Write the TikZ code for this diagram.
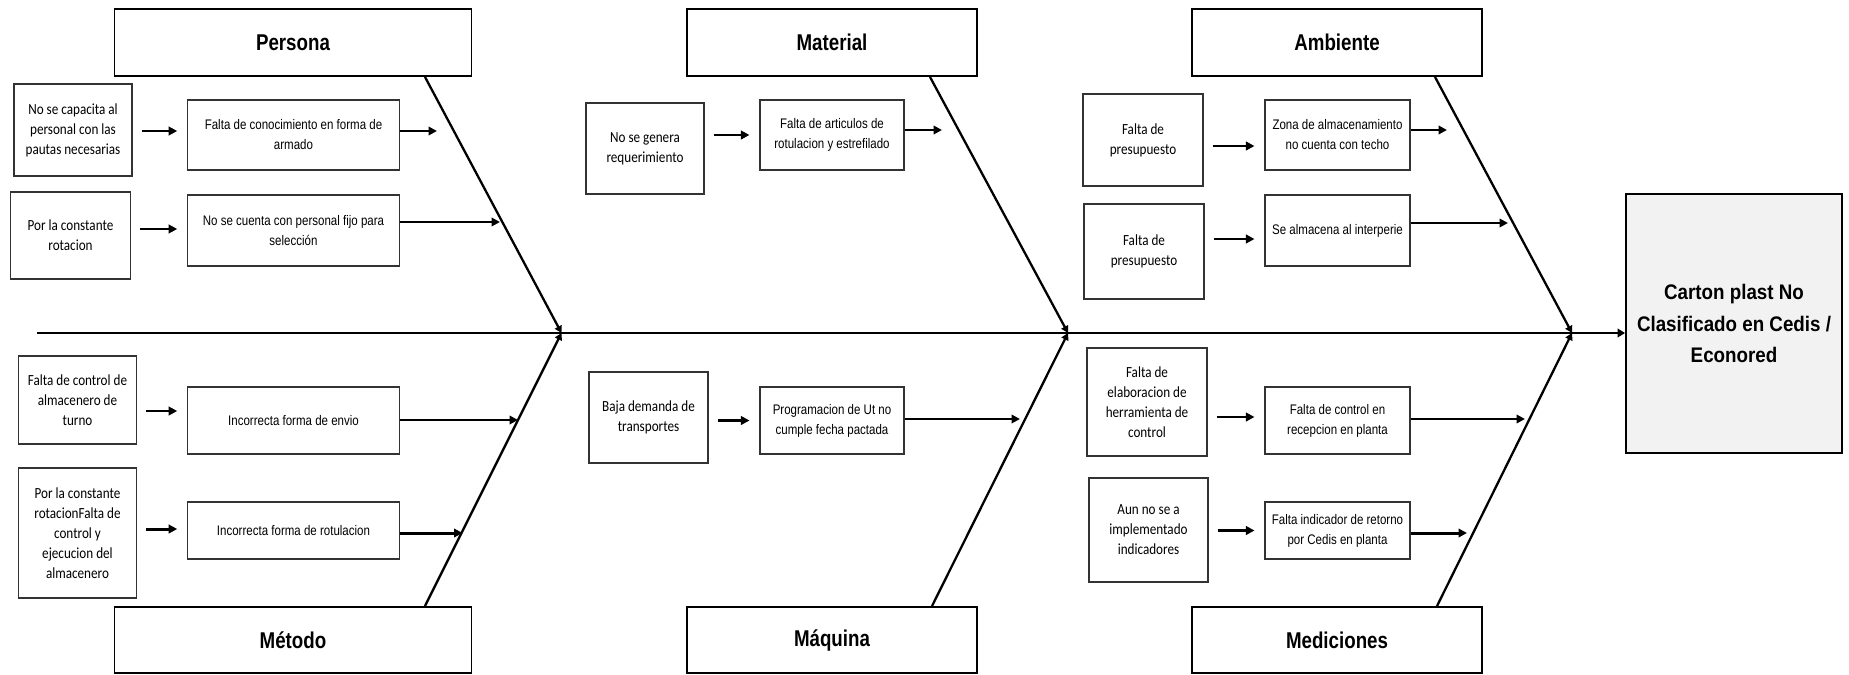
\documentclass[tikz,border=0pt]{standalone}
\usepackage{fontspec}
\setmainfont{Liberation Sans}
\newfontfamily\causefont[FakeStretch=0.85]{Carlito}
\newfontfamily\subfont[FakeStretch=0.83]{Liberation Sans}
\newfontfamily\headfont[FakeStretch=0.82]{Liberation Sans}
\newfontfamily\effectfont[FakeStretch=0.89]{Liberation Sans}
\usetikzlibrary{arrows.meta, calc}

\tikzset{
    header/.style={draw, line width=1.1pt, minimum height=1.34cm,
        font=\headfont\bfseries\fontsize{13}{15}\selectfont},
    cause/.style={draw=black!80, line width=0.6pt, align=center, inner sep=1pt,
        font=\causefont\fontsize{8.8}{11.4}\selectfont},
    subcause/.style={draw=black!80, line width=0.6pt, align=center, inner sep=1pt,
        minimum height=1.34cm, font=\subfont\fontsize{7.9}{11.4}\selectfont},
    feed/.style={line width=1.7pt, -{Triangle[length=1.7mm, width=1.7mm]}},
    bone/.style={line width=1.3pt, -{Triangle[length=1.4mm, width=1.5mm]}},
    spine/.style={line width=1.7pt, -{Triangle[length=1.5mm, width=1.7mm]}}
}

\begin{document}
\begin{tikzpicture}
            \useasboundingbox (0, 0) rectangle (36.98, -13.48);

            % category heads
            \node[header, minimum width=7.14cm] (persona) at (5.86, -0.85) {Persona};
            \node[header, minimum width=5.8cm] (material) at (16.64, -0.85) {Material};
            \node[header, minimum width=5.8cm] (ambiente) at (26.74, -0.85) {Ambiente};
            \node[header, minimum width=7.14cm, minimum height=1.32cm] (metodo) at (5.86, -12.8) {Método};
            \node[header, minimum width=5.8cm, minimum height=1.32cm] (maquina) at (16.64, -12.8) {Máquina};
            \node[header, minimum width=5.8cm, minimum height=1.32cm] (mediciones) at (26.74, -12.8) {Mediciones};

            \node[draw, line width=1pt, fill=black!5, minimum width=4.32cm, minimum height=5.18cm,
                align=center, font=\effectfont\bfseries\fontsize{12}{18}\selectfont]
                (effect) at (34.68, -6.47) {Carton plast No\\Clasificado en Cedis /\\Econored};

            % root causes
            \node[cause, minimum width=2.36cm, minimum height=1.84cm] (c1) at (1.46, -2.6) {No se capacita al\\personal con las\\pautas necesarias};
            \node[cause, minimum width=2.4cm, minimum height=1.74cm] (c2) at (1.41, -4.71) {Por la constante\\rotacion};
            \node[cause, minimum width=2.36cm, minimum height=1.76cm] (c3) at (1.55, -8.0) {Falta de control de\\almacenero de\\turno};
            \node[cause, minimum width=2.36cm, minimum height=2.6cm] (c4) at (1.55, -10.66) {Por la constante\\rotacionFalta de\\control y\\ejecucion del\\almacenero};
            \node[cause, minimum width=2.36cm, minimum height=1.82cm] (c5) at (12.9, -2.97) {No se genera\\requerimiento};
            \node[cause, minimum width=2.38cm, minimum height=1.82cm] (c6) at (12.97, -8.35) {Baja demanda de\\transportes};
            \node[cause, minimum width=2.4cm, minimum height=1.84cm] (c7) at (22.86, -2.8) {Falta de\\presupuesto};
            \node[cause, minimum width=2.4cm, minimum height=1.9cm] (c8) at (22.88, -5.03) {Falta de\\presupuesto};
            \node[cause, minimum width=2.4cm, minimum height=2.16cm] (c9) at (22.94, -8.04) {Falta de\\elaboracion de\\herramienta de\\control};
            \node[cause, minimum width=2.38cm, minimum height=2.08cm] (c10) at (22.97, -10.6) {Aun no se a\\implementado\\indicadores};

            % what they lead to
            \node[subcause, minimum width=4.23cm, minimum height=1.4cm] (e1) at (5.87, -2.7) {Falta de conocimiento en forma de\\armado};
            \node[subcause, minimum width=4.23cm, minimum height=1.42cm] (e2) at (5.87, -4.61) {No se cuenta con personal fijo para\\selección};
            \node[subcause, minimum width=4.23cm] (e3) at (5.87, -8.41) {Incorrecta forma de envio};
            \node[subcause, minimum width=4.23cm, minimum height=1.14cm] (e4) at (5.87, -10.61) {Incorrecta forma de rotulacion};
            \node[subcause, minimum width=2.88cm, minimum height=1.4cm] (e5) at (16.64, -2.7) {Falta de articulos de\\rotulacion y estrefilado};
            \node[subcause, minimum width=2.88cm] (e6) at (16.64, -8.41) {Programacion de Ut no\\cumple fecha pactada};
            \node[subcause, minimum width=2.9cm, minimum height=1.4cm] (e7) at (26.75, -2.7) {Zona de almacenamiento\\no cuenta con techo};
            \node[subcause, minimum width=2.9cm, minimum height=1.42cm] (e8) at (26.75, -4.61) {Se almacena al interperie};
            \node[subcause, minimum width=2.9cm] (e9) at (26.75, -8.41) {Falta de control en\\recepcion en planta};
            \node[subcause, minimum width=2.9cm, minimum height=1.14cm] (e10) at (26.75, -10.61) {Falta indicador de retorno\\por Cedis en planta};

            % spine and bones
            \coordinate (tail) at (0.74, -6.66);
            \coordinate (j1) at (11.23, -6.66);
            \coordinate (j2) at (21.36, -6.66);
            \coordinate (j3) at (31.44, -6.66);
            \draw[spine] (tail) -- (j3 -| effect.west);

            \foreach \h/\s/\j in {persona.south/2.64/j1, metodo.north/2.64/j1,
                material.south/1.96/j2, maquina.north/2.0/j2,
                ambiente.south/1.96/j3, mediciones.north/2.0/j3}
                {
                    \draw[bone] ($(\h)+(\s, 0)$) -- (\j);
                }

            % cause -> effect arrows
            \foreach \c/\e/\dy in {c1/e1/0.08, c2/e2/0.03, c3/e3/0.19, c4/e4/0.03, c5/e5/0,
                c6/e6/0, c7/e7/-0.22, c8/e8/-0.17, c9/e9/0.07, c10/e10/0}
                {
                    \path ($(\e.west)+(0, \dy)$) coordinate (t);
                    \draw[feed, shorten <=0.18cm, shorten >=0.2cm] (t -| \c.east) -- (t);
                }

            % arrows onto the bones
            \coordinate (p1) at (8.74, -2.62);
            \coordinate (p2) at (10.0, -4.44);
            \coordinate (p3) at (10.36, -8.40);
            \coordinate (p4) at (9.25, -10.66);
            \coordinate (p5) at (18.84, -2.60);
            \coordinate (p6) at (20.40, -8.38);
            \coordinate (p7) at (28.94, -2.60);
            \coordinate (p8) at (30.16, -4.46);
            \coordinate (p9) at (30.50, -8.38);
            \coordinate (p10) at (29.34, -10.66);
            \foreach \e/\p in {e1/p1, e2/p2, e3/p3, e4/p4, e5/p5, e6/p6, e7/p7, e8/p8, e9/p9, e10/p10}
                {
                    \draw[feed] (\p -| \e.east) -- (\p);
                }
\end{tikzpicture}
\end{document}
